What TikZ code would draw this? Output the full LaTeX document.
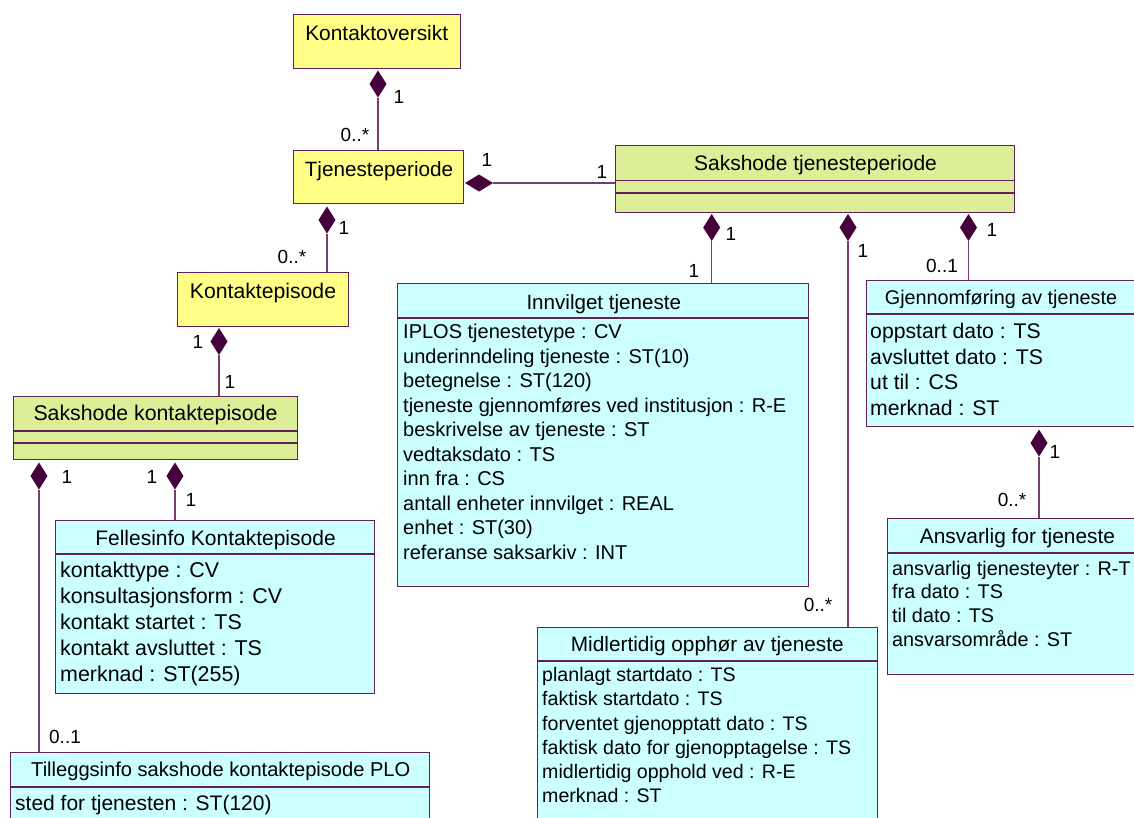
\documentclass[tikz,border=0pt]{standalone}
\usepackage{fontspec}
\setmainfont{Liberation Sans}
\usetikzlibrary{shapes.geometric}
\definecolor{yelc}{RGB}{255,255,136}
\definecolor{grnc}{RGB}{221,238,153}
\definecolor{cyac}{RGB}{204,255,255}
\definecolor{bordc}{RGB}{96,32,90}
\definecolor{linec}{RGB}{120,60,110}
\definecolor{diac}{RGB}{70,0,60}
\newcommand\fsz[1]{\fontsize{#1}{#1}\selectfont}
\tikzset{
  box/.style={draw=bordc, line width=1.3pt, anchor=north west, inner sep=0pt},
  cline/.style={draw=bordc, line width=1.3pt},
  conn/.style={draw=linec, line width=1.1pt},
  vdiam/.style={diamond, fill=diac, draw=none, inner sep=0pt, outer sep=0pt, minimum width=17pt, minimum height=27pt},
  hdiam/.style={diamond, fill=diac, draw=none, inner sep=0pt, outer sep=0pt, minimum width=28pt, minimum height=17pt},
  lbl/.style={font=\fsz{19}, inner sep=0pt},
  ttl/.style={anchor=base, inner sep=0pt},
  attr/.style={anchor=base west, inner sep=0pt},
}
\begin{document}
\begin{tikzpicture}[x=1pt,y=-1pt]
\useasboundingbox (0,0) rectangle (1134,817);
\clip (0,0) rectangle (1134,817);
\fill[white] (0,0) rectangle (1134,817);

% ---- class boxes ----
\node[box, fill=yelc, minimum width=167pt, minimum height=54pt] (kov) at (293,14) {};
\node[ttl, font=\fsz{20.9}] (kovt) at (376.7,40.5) {Kontaktoversikt};

\node[box, fill=yelc, minimum width=170pt, minimum height=53pt] (tjp) at (293,150) {};
\node[ttl, font=\fsz{20.7}] (tjpt) at (379,176) {Tjenesteperiode};

\node[box, fill=yelc, minimum width=171pt, minimum height=54pt] (kep) at (177,272) {};
\node[ttl, font=\fsz{21.2}] (kept) at (263,298.3) {Kontaktepisode};

\node[box, fill=grnc, minimum width=284pt, minimum height=63pt] (ske) at (13,396) {};
\node[ttl, font=\fsz{21.3}] (sket) at (155.5,420.7) {Sakshode kontaktepisode};
\draw[cline] (ske.west |- 0,431) -- (ske.east |- 0,431);
\draw[cline] (ske.west |- 0,443) -- (ske.east |- 0,443);

\node[box, fill=grnc, minimum width=399pt, minimum height=67pt] (stp) at (615,145) {};
\node[ttl, font=\fsz{21}] (stpt) at (815.5,170.5) {Sakshode tjenesteperiode};
\draw[cline] (stp.west |- 0,180.5) -- (stp.east |- 0,180.5);
\draw[cline] (stp.west |- 0,193) -- (stp.east |- 0,193);

% Innvilget tjeneste
\node[box, fill=cyac, minimum width=411pt, minimum height=303pt] (inv) at (397,283) {};
\node[ttl, font=\fsz{20.6}] (invt) at (603.8,309) {Innvilget tjeneste};
\draw[cline] (inv.west |- 0,318) -- (inv.east |- 0,318);
\begin{scope}[every node/.style={attr, font=\fsz{20}}]
\node (inv1) at (403,338.7) {IPLOS tjenestetype : CV};
\node (inv2) at (403,363.2) {underinndeling tjeneste : ST(10)};
\node (inv3) at (403,387.7) {betegnelse : ST(120)};
\node (inv4) at (403,412.2) {tjeneste gjennomføres ved institusjon : R-E};
\node (inv5) at (403,436.7) {beskrivelse av tjeneste : ST};
\node (inv6) at (403,461.2) {vedtaksdato : TS};
\node (inv7) at (403,485.7) {inn fra : CS};
\node (inv8) at (403,510.2) {antall enheter innvilget : REAL};
\node (inv9) at (403,534.7) {enhet : ST(30)};
\node (inv10) at (403,559.2) {referanse saksarkiv : INT};
\end{scope}

% Gjennomfoering av tjeneste
\node[box, fill=cyac, minimum width=284pt, minimum height=146pt] (gjf) at (866,280) {};
\node[ttl, font=\fsz{19.8}] (gjft) at (1001,304.3) {Gjennomføring av tjeneste};
\draw[cline] (gjf.west |- 0,314) -- (gjf.east |- 0,314);
\begin{scope}[every node/.style={attr, font=\fsz{21.2}}]
\node (gjf1) at (870,338.3) {oppstart dato : TS};
\node (gjf2) at (870,364.1) {avsluttet dato : TS};
\node (gjf3) at (870,389.9) {ut til : CS};
\node (gjf4) at (870,415.7) {merknad : ST};
\end{scope}

% Ansvarlig for tjeneste
\node[box, fill=cyac, minimum width=263pt, minimum height=156pt] (ans) at (887,518) {};
\node[ttl, font=\fsz{20.9}] (anst) at (1017.5,543.3) {Ansvarlig for tjeneste};
\draw[cline] (ans.west |- 0,553) -- (ans.east |- 0,553);
\begin{scope}[every node/.style={attr, font=\fsz{19.8}}]
\node (ans1) at (892,575) {ansvarlig tjenesteyter : R-T};
\node (ans2) at (892,598.9) {fra dato : TS};
\node (ans3) at (892,622.8) {til dato : TS};
\node (ans4) at (892,646.7) {ansvarsområde : ST};
\end{scope}

% Fellesinfo Kontaktepisode
\node[box, fill=cyac, minimum width=319pt, minimum height=173pt] (fel) at (55,520) {};
\node[ttl, font=\fsz{21}] (felt) at (215.5,545.7) {Fellesinfo Kontaktepisode};
\draw[cline] (fel.west |- 0,554) -- (fel.east |- 0,554);
\begin{scope}[every node/.style={attr, font=\fsz{21.4}}]
\node (fel1) at (60,577.3) {kontakttype : CV};
\node (fel2) at (60,603.2) {konsultasjonsform : CV};
\node (fel3) at (60,629.1) {kontakt startet : TS};
\node (fel4) at (60,655.0) {kontakt avsluttet : TS};
\node (fel5) at (60,681.0) {merknad : ST(255)};
\end{scope}

% Tilleggsinfo
\node[box, fill=cyac, minimum width=419pt, minimum height=80pt] (til) at (10,752) {};
\node[ttl, font=\fsz{20.1}] (tilt) at (220.8,776.7) {Tilleggsinfo sakshode kontaktepisode PLO};
\draw[cline] (til.west |- 0,787) -- (til.east |- 0,787);
\node[attr, font=\fsz{21}] (til1) at (15,810) {sted for tjenesten : ST(120)};

% Midlertidig opphoer
\node[box, fill=cyac, minimum width=340pt, minimum height=205pt] (mid) at (537,627) {};
\node[ttl, font=\fsz{20.8}] (midt) at (707.3,651.7) {Midlertidig opphør av tjeneste};
\draw[cline] (mid.west |- 0,661) -- (mid.east |- 0,661);
\begin{scope}[every node/.style={attr, font=\fsz{19.6}}]
\node (mid1) at (542,681.7) {planlagt startdato : TS};
\node (mid2) at (542,705.9) {faktisk startdato : TS};
\node (mid3) at (542,730.1) {forventet gjenopptatt dato : TS};
\node (mid4) at (542,754.3) {faktisk dato for gjenopptagelse : TS};
\node (mid5) at (542,778.5) {midlertidig opphold ved : R-E};
\node (mid6) at (542,802.7) {merknad : ST};
\end{scope}

% ---- diamonds & connectors ----
\node[vdiam] (dk) at (378,84) {};
\draw[conn] (dk.south) -- (dk.south |- tjp.north);
\node[hdiam] (dtp) at (479,183) {};
\draw[conn] (dtp.east) -- (dtp.east -| stp.west);
\node[vdiam] (dtk) at (327,220) {};
\draw[conn] (dtk.south) -- (dtk.south |- kep.north);
\node[vdiam] (dke) at (219,341.5) {};
\draw[conn] (dke.south) -- (dke.south |- ske.north);
\node[vdiam] (ds1) at (39,476) {};
\draw[conn] (ds1.south) -- (ds1.south |- til.north);
\node[vdiam] (ds2) at (175,476) {};
\draw[conn] (ds2.south) -- (ds2.south |- fel.north);
\node[vdiam] (dst1) at (711.7,227.5) {};
\draw[conn] (dst1.south) -- (dst1.south |- inv.north);
\node[vdiam] (dst2) at (848,227.5) {};
\draw[conn] (dst2.south) -- (dst2.south |- mid.north);
\node[vdiam] (dst3) at (968.5,227.5) {};
\draw[conn] (dst3.south) -- (dst3.south |- gjf.north);
\node[vdiam] (dgj) at (1039,443) {};
\draw[conn] (dgj.south) -- (dgj.south |- ans.north);

% ---- multiplicities ----
\node[lbl] (l1) at (399,97) {1};
\node[lbl] (l2) at (355,135) {0..*};
\node[lbl] (l3) at (487,160) {1};
\node[lbl] (l4) at (602,172) {1};
\node[lbl] (l5) at (344,228) {1};
\node[lbl] (l6) at (292,257) {0..*};
\node[lbl] (l7) at (198,342) {1};
\node[lbl] (l8) at (230,382) {1};
\node[lbl] (l9) at (67,477) {1};
\node[lbl] (l10) at (152,477) {1};
\node[lbl] (l11) at (191,500) {1};
\node[lbl] (l12) at (65,737) {0..1};
\node[lbl] (l13) at (731,234) {1};
\node[lbl] (l14) at (694,271) {1};
\node[lbl] (l15) at (863,251) {1};
\node[lbl] (l16) at (818,605) {0..*};
\node[lbl] (l17) at (992,230) {1};
\node[lbl] (l18) at (942,266) {0..1};
\node[lbl] (l19) at (1055,452) {1};
\node[lbl] (l20) at (1012,500) {0..*};
\end{tikzpicture}
\end{document}
